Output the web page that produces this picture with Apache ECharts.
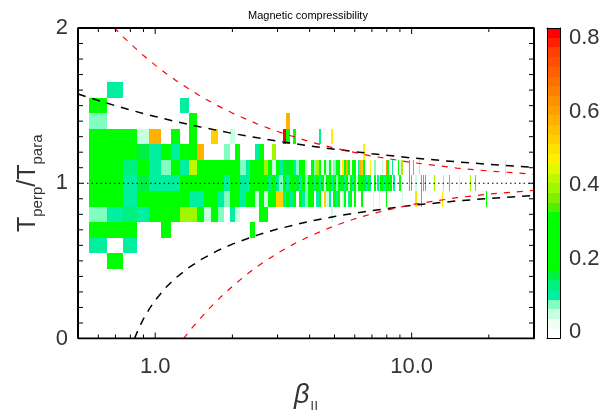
<!DOCTYPE html>
<html><head><meta charset="utf-8">
<script src="https://cdn.jsdelivr.net/npm/echarts@6/dist/echarts.min.js"></script>
<style>html,body{margin:0;padding:0;background:#fff}#c{width:616px;height:410px}</style>
</head><body><div id="c"></div>
<script>
// ---------------- data ----------------
const row16 = [[0.7,0.11]];
const row15 = [[0.6,0.22],[1.3,0.11]];
const row14 = [[0.6,0.07],[1.4,0.22],[3.3,0.58]];
const row13 = [[0.6,0.22],[0.7,0.22],[0.8,0.22],[0.9,0.05],[1.0,0.58],[1.2,0.22],[1.4,0.22],[1.7,0.53],[2.0,0.05],[3.2,0.81],[3.3,0.22],[3.5,0.21],[4.4,0.13],[4.9,0.48]];
const row12 = [[0.6,0.22],[0.7,0.22],[0.8,0.22],[0.9,0.15],[1.0,0.11],[1.1,0.22],[1.2,0.1],[1.3,0.22],[1.4,0.22],[1.5,0.57],[1.9,0.07],[2.1,0.22],[2.5,0.1],[2.6,0.22],[2.9,0.39],[6.5,0.48]];
const row11 = [[0.6,0.22],[0.7,0.22],[0.8,0.13],[0.9,0.22],[1.0,0.1],[1.1,0.07],[1.2,0.22],[1.3,0.1],[1.4,0.42],[1.5,0.22],[1.6,0.22],[1.7,0.22],[1.8,0.22],[1.9,0.2],[2.0,0.22],[2.1,0.22],[2.2,0.07],[2.3,0.1],[2.4,0.22],[2.5,0.22],[2.6,0.22],[2.7,0.39],[2.8,0.22],[2.9,0.05],[3.0,0.22],[3.1,0.1],[3.2,0.22],[3.3,0.15],[3.4,0.22],[3.5,0.1],[3.6,0.07],[3.7,0.22],[3.8,0.22],[3.9,0.05],[4.1,0.22],[4.2,0.07],[4.3,0.39],[4.4,0.22],[4.6,0.22],[4.7,0.05],[4.8,0.22],[5.0,0.07],[5.1,0.22],[5.2,0.22],[5.4,0.48],[5.5,0.22],[5.6,0.58],[5.7,0.22],[5.9,0.22],[6.0,0.22],[6.2,0.1],[6.3,0.58],[6.4,0.53],[6.5,0.22],[6.9,0.48],[7.2,0.07],[7.7,0.05],[8.0,0.63],[8.1,0.22],[8.4,0.1],[8.9,0.22],[9.1,0.39],[9.2,0.39],[9.8,0.22],[10.2,0.1],[10.7,0.48],[19.1,0.03],[23.2,0.48]];
const row10 = [[0.6,0.22],[0.7,0.22],[0.8,0.1],[0.9,0.15],[1.0,0.1],[1.1,0.1],[1.2,0.1],[1.3,0.22],[1.4,0.22],[1.5,0.22],[1.6,0.22],[1.7,0.22],[1.8,0.22],[1.9,0.1],[2.0,0.22],[2.1,0.22],[2.2,0.1],[2.3,0.1],[2.4,0.22],[2.5,0.22],[2.6,0.22],[2.7,0.22],[2.8,0.13],[2.9,0.22],[3.0,0.1],[3.1,0.07],[3.2,0.22],[3.3,0.1],[3.4,0.22],[3.5,0.22],[3.6,0.15],[3.7,0.1],[3.8,0.22],[3.9,0.07],[4.0,0.22],[4.1,0.22],[4.2,0.13],[4.3,0.22],[4.4,0.1],[4.5,0.22],[4.6,0.05],[4.7,0.22],[4.8,0.22],[4.9,0.1],[5.0,0.22],[5.1,0.07],[5.2,0.22],[5.3,0.15],[5.4,0.22],[5.5,0.1],[5.6,0.22],[5.7,0.05],[5.8,0.22],[5.9,0.1],[6.0,0.22],[6.1,0.05],[6.2,0.22],[6.3,0.22],[6.4,0.22],[6.5,0.15],[6.6,0.15],[6.7,0.1],[6.8,0.22],[6.9,0.1],[7.2,0.22],[7.4,0.1],[7.5,0.05],[7.6,0.22],[7.7,0.22],[7.8,0.1],[7.9,0.1],[8.0,0.22],[8.1,0.22],[8.2,0.63],[8.3,0.22],[8.5,0.1],[8.6,0.1],[9.0,0.22],[9.8,0.22],[10.0,0.1],[10.4,0.05],[10.9,0.22],[11.1,0.22],[11.3,0.22],[12.3,0.39],[13.3,0.07],[14.0,0.63],[15.3,0.05],[16.9,0.39],[17.8,0.63]];
const row09 = [[0.6,0.22],[0.7,0.2],[0.8,0.1],[0.9,0.22],[1.0,0.22],[1.1,0.22],[1.2,0.22],[1.3,0.22],[1.4,0.1],[1.5,0.1],[1.6,0.22],[1.7,0.22],[1.8,0.1],[1.9,0.07],[2.0,0.22],[2.1,0.22],[2.2,0.1],[2.3,0.22],[2.4,0.22],[2.5,0.05],[2.6,0.22],[2.7,0.05],[2.8,0.22],[2.9,0.22],[3.0,0.53],[3.1,0.53],[3.2,0.11],[3.3,0.22],[3.4,0.1],[3.5,0.22],[3.7,0.22],[3.8,0.1],[3.9,0.07],[4.0,0.22],[4.1,0.22],[4.3,0.1],[4.4,0.22],[4.6,0.53],[4.7,0.05],[4.8,0.1],[5.0,0.22],[5.1,0.1],[5.2,0.22],[5.4,0.05],[5.5,0.22],[5.7,0.1],[5.8,0.22],[6.0,0.22],[6.4,0.22],[7.1,0.05],[7.5,0.05],[8.0,0.22],[9.2,0.05],[10.4,0.5],[10.9,0.22],[13.2,0.48],[19.5,0.22]];
const row08 = [[0.6,0.07],[0.7,0.1],[0.8,0.13],[0.9,0.1],[1.0,0.22],[1.1,0.22],[1.2,0.22],[1.3,0.38],[1.4,0.4],[1.5,0.22],[1.6,0.05],[1.7,0.22],[1.8,0.07],[2.0,0.1],[2.1,0.04],[2.6,0.22],[2.7,0.22],[4.9,0.05]];
const row07 = [[0.6,0.22],[0.7,0.22],[0.8,0.22],[1.1,0.22],[2.4,0.22]];
const row06 = [[0.6,0.1],[0.8,0.1]];
const row05 = [[0.7,0.22]];
const rowRatios = [1.6,1.5,1.4,1.3,1.2,1.1,1.0,0.9,0.8,0.7,0.6,0.5];
const rowCells  = [row16,row15,row14,row13,row12,row11,row10,row09,row08,row07,row06,row05];

// threshold curves [beta_parallel, T_perp/T_para]
const cyclotronCurve = [[0.5,1.575],[0.6,1.533],[0.7,1.499],[0.8,1.472],[0.9,1.449],[1,1.43],[1.2,1.398],[1.5,1.363],[2,1.321],[2.5,1.293],[3,1.271],[4,1.24],[5,1.219],[7,1.19],[10,1.163],[15,1.138],[20,1.122],[30,1.103]];
const mirrorCurve = [[0.69,2.003],[0.75,1.943],[0.8,1.899],[0.9,1.823],[1,1.761],[1.1,1.708],[1.2,1.664],[1.35,1.608],[1.5,1.561],[1.75,1.5],[2,1.452],[2.5,1.382],[3,1.333],[4,1.268],[5,1.226],[7,1.175],[10,1.134],[15,1.098],[20,1.079],[30,1.058]];
const parFirehoseCurve = [[0.831,0.0],[0.84,0.02],[0.86,0.059],[0.88,0.094],[0.9,0.126],[0.95,0.192],[1,0.246],[1.1,0.329],[1.2,0.389],[1.35,0.456],[1.5,0.506],[1.75,0.566],[2,0.608],[2.5,0.666],[3,0.705],[4,0.755],[5,0.786],[7,0.824],[10,0.857],[15,0.886],[20,0.902],[30,0.922]];
const oblFirehoseCurve = [[1.29,0.0],[1.35,0.041],[1.4,0.073],[1.5,0.13],[1.6,0.181],[1.8,0.267],[2,0.336],[2.25,0.407],[2.5,0.464],[3,0.55],[3.5,0.612],[4,0.659],[5,0.726],[6,0.771],[7,0.803],[8.5,0.837],[10,0.862],[15,0.907],[20,0.93],[30,0.954]];
const isotropyLine = [[0.5,1],[30,1]];

// axes
const xRange = [0.5, 30];
const yRange = [0, 2];
const xMajorTicks = [1, 10];
const xMinorTicks = [0.6,0.7,0.8,0.9,2,3,4,5,6,7,8,9,20];
const yTicks = [0.1,0.2,0.3,0.4,0.5,0.6,0.7,0.8,0.9,1.0,1.1,1.2,1.3,1.4,1.5,1.6,1.7,1.8,1.9];
const cbarRange = [-0.018, 0.828];
const cbarTicks = [0, 0.2, 0.4, 0.6, 0.8];

// ---------------- layout & styles ----------------
const G = {left: 78, right: 82, top: 28, bottom: 71.5};
const W = 616, H = 410;
const plotW = W - G.left - G.right, plotH = H - G.top - G.bottom;
const CMAP = ['#ffffff','#f0fff4','#c8ffe0','#80ffc0','#00f0a0','#00f080','#00f040',
  '#00ff00','#00ff00','#00ff00','#00ff00','#00ff00','#00ff00',
  '#50f000','#80f000','#a0f800','#c0f800','#e0f800','#fff000','#ffe000','#ffd000','#ffc000',
  '#ffb000','#ffa000','#ff9000','#ff8000','#ff7000','#ff6000','#ff5000','#ff4000','#ff2000','#ff0000'];
const BIN = 0.1;
const AX = '#000000', LBL = '#333333';
const FONT = 'Liberation Sans';
const TICK_MAJOR_PX = 6, TICK_MINOR_PX = 4, TICK_Y_PX = 5;
function colorFor(v){
  let k = Math.floor((v - cbarRange[0]) / (cbarRange[1] - cbarRange[0]) * CMAP.length);
  k = Math.max(0, Math.min(CMAP.length - 1, k));
  return CMAP[k];
}

const cells = [];
rowRatios.forEach((r, i) => rowCells[i].forEach(c => cells.push([c[0], r, c[1]])));
const cbarBands = CMAP.map((c, k) => [k]);

// frame and inward tick segments in the axes' data units
const yPerPx = (yRange[1] - yRange[0]) / plotH;
const xFacPerPx = Math.pow(xRange[1] / xRange[0], 1 / plotW);
const frameLine = [[xRange[0], yRange[0]], [xRange[1], yRange[0]], [xRange[1], yRange[1]], [xRange[0], yRange[1]], [xRange[0], yRange[0]]];
const tickSegs = [];
xMajorTicks.concat(xMinorTicks).forEach(v => {
  const len = (xMajorTicks.indexOf(v) >= 0 ? TICK_MAJOR_PX : TICK_MINOR_PX) * yPerPx;
  tickSegs.push([v, yRange[0]], [v, yRange[0] + len], '-', [v, yRange[1]], [v, yRange[1] - len], '-');
});
const yFac = Math.pow(xFacPerPx, TICK_Y_PX);
yTicks.forEach(v => {
  tickSegs.push([xRange[0], v], [xRange[0] * yFac, v], '-', [xRange[1], v], [xRange[1] / yFac, v], '-');
});

const chart = echarts.init(document.getElementById('c'), null, {renderer: 'canvas'});

const option = {
  animation: false,
  textStyle: {fontFamily: FONT},
  title: {text: 'Magnetic compressibility', left: 'center', top: 5,
    textStyle: {fontSize: 11, fontWeight: 'normal', color: '#000', fontFamily: FONT}},
  grid: [
    {left: G.left, right: G.right, top: G.top, bottom: G.bottom, show: true, borderColor: AX, borderWidth: 1,
      backgroundColor: 'rgba(0,0,0,0)', containLabel: false, outerBoundsMode: 'none'},
    {left: 547, width: 13, top: G.top, bottom: G.bottom, show: false, containLabel: false, outerBoundsMode: 'none'}
  ],
  xAxis: [
    {type: 'log', logBase: 10, min: xRange[0], max: xRange[1], gridIndex: 0, position: 'bottom',
      axisLine: {show: false, onZero: false}, axisTick: {show: false}, splitLine: {show: false},
      axisLabel: {show: true, customValues: xMajorTicks, margin: 17, fontSize: 22, color: LBL, fontFamily: FONT,
        formatter: v => Number(v).toFixed(1)},
      name: '{b|β}{s|||}', nameLocation: 'middle', nameGap: 40,
      nameTextStyle: {rich: {
        b: {fontSize: 27, fontStyle: 'italic', fontFamily: FONT, color: '#333', lineHeight: 32},
        s: {fontSize: 15, fontFamily: FONT, color: '#333', lineHeight: 16, verticalAlign: 'bottom', padding: [0,0,-3,1]}
      }}
    },
    {type: 'value', gridIndex: 1, min: 0, max: 1, position: 'bottom', z: 10,
      axisLine: {show: true, onZero: false, lineStyle: {color: '#000'}}, axisTick: {show: false}, axisLabel: {show: false}, splitLine: {show: false}},
    {type: 'value', gridIndex: 1, min: 0, max: 1, position: 'top', z: 10,
      axisLine: {show: true, onZero: false, lineStyle: {color: '#000'}}, axisTick: {show: false}, axisLabel: {show: false}, splitLine: {show: false}}
  ],
  yAxis: [
    {type: 'value', gridIndex: 0, min: yRange[0], max: yRange[1], interval: 1, position: 'left',
      axisLine: {show: false, onZero: false}, axisTick: {show: false},
      splitLine: {show: false},
      axisLabel: {margin: 10, fontSize: 22, color: LBL, fontFamily: FONT},
      name: '{t|T}{s|perp}{t|/T}{s|para}', nameLocation: 'middle', nameRotate: 90, nameGap: 34,
      nameTextStyle: {rich: {
        t: {fontSize: 25, fontFamily: FONT, color: '#333', lineHeight: 30},
        s: {fontSize: 15, fontFamily: FONT, color: '#333', lineHeight: 15, verticalAlign: 'bottom', padding: [0,0,-2,0]}
      }}
    },
    {type: 'value', gridIndex: 1, min: cbarRange[0], max: cbarRange[1], position: 'right', z: 10,
      axisLine: {show: true, onZero: false, lineStyle: {color: '#000'}}, axisTick: {show: false}, splitLine: {show: false},
      axisLabel: {customValues: cbarTicks, margin: 9, fontSize: 22, color: LBL, fontFamily: FONT,
        formatter: v => (Math.abs(v) < 1e-9 ? '0' : Number(v).toFixed(1))}},
    {type: 'value', gridIndex: 1, min: cbarRange[0], max: cbarRange[1], position: 'left', z: 10,
      axisLine: {show: true, onZero: false, lineStyle: {color: '#000'}}, axisTick: {show: false}, splitLine: {show: false}, axisLabel: {show: false}}
  ],
  series: [
    {type: 'custom', name: 'cells', xAxisIndex: 0, yAxisIndex: 0, clip: true, z: 2,
      data: cells, encode: {x: 0, y: 1},
      renderItem: function(params, api){
        const b = api.value(0), r = api.value(1), v = api.value(2);
        const p0 = api.coord([b - BIN/2, r + BIN/2]);
        const p1 = api.coord([b + BIN/2, r - BIN/2]);
        let x0 = Math.round(p0[0]), x1 = Math.round(p1[0]);
        if (x1 - x0 < 1) { x0 = Math.floor((p0[0] + p1[0]) / 2); x1 = x0 + 1; }
        const y0 = Math.round(p0[1]), y1 = Math.round(p1[1]);
        return {type: 'rect', shape: {x: x0, y: y0, width: x1 - x0, height: y1 - y0},
          style: {fill: colorFor(v)}};
      }},
    {type: 'line', xAxisIndex: 0, yAxisIndex: 0, data: isotropyLine, showSymbol: false, z: 4,
      lineStyle: {color: '#000', width: 1, type: [1.5, 3]}},
    {type: 'line', xAxisIndex: 0, yAxisIndex: 0, data: cyclotronCurve, showSymbol: false, smooth: false, z: 5,
      lineStyle: {color: '#000', width: 1.5, type: [8, 7]}},
    {type: 'line', xAxisIndex: 0, yAxisIndex: 0, data: parFirehoseCurve, showSymbol: false, smooth: false, z: 5,
      lineStyle: {color: '#000', width: 1.5, type: [8, 7]}},
    {type: 'line', xAxisIndex: 0, yAxisIndex: 0, data: mirrorCurve, showSymbol: false, smooth: false, z: 5,
      lineStyle: {color: '#ff0000', width: 1.2, type: [6, 7]}},
    {type: 'line', xAxisIndex: 0, yAxisIndex: 0, data: oblFirehoseCurve, showSymbol: false, smooth: false, z: 5,
      lineStyle: {color: '#ff0000', width: 1.2, type: [6, 7]}},
    {type: 'line', name: 'frame', xAxisIndex: 0, yAxisIndex: 0, data: frameLine, showSymbol: false, clip: true, z: 9,
      lineStyle: {color: AX, width: 2, type: 'solid'}},
    {type: 'line', name: 'ticks', xAxisIndex: 0, yAxisIndex: 0, data: tickSegs, showSymbol: false, clip: true, z: 9,
      connectNulls: false, lineStyle: {color: AX, width: 1, type: 'solid'}},
    {type: 'custom', name: 'colorbar', xAxisIndex: 1, yAxisIndex: 1, z: 1,
      data: cbarBands,
      renderItem: function(params, api){
        const k = api.value(0);
        const step = (cbarRange[1] - cbarRange[0]) / CMAP.length;
        const lo = cbarRange[0] + k * step, hi = lo + step;
        const p0 = api.coord([0, hi]), p1 = api.coord([1, lo]);
        const y0 = Math.round(p0[1]), y1 = Math.round(p1[1]);
        return {type: 'rect', shape: {x: p0[0], y: y0, width: p1[0] - p0[0], height: y1 - y0},
          style: {fill: CMAP[k]}};
      }}
  ]
};
chart.setOption(option);
</script>
</body></html>
